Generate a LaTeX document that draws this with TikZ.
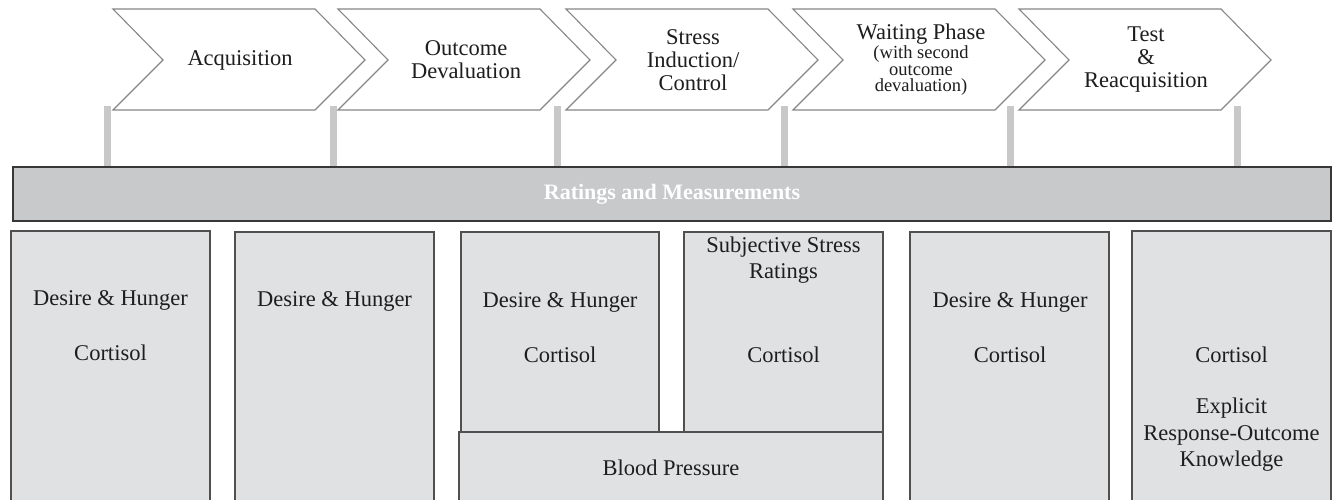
\documentclass[tikz,border=0pt]{standalone}
\usepackage{fontspec}
\setmainfont{Liberation Serif}
\definecolor{chevline}{RGB}{135,135,135}
\definecolor{postgray}{RGB}{200,200,200}
\definecolor{barfill}{RGB}{200,201,203}
\definecolor{bardark}{RGB}{55,55,55}
\definecolor{boxfill}{RGB}{224,225,227}
\definecolor{boxline}{RGB}{80,80,80}
\definecolor{txt}{RGB}{30,30,30}
\begin{document}
\begin{tikzpicture}[x=1pt,y=-1pt,
  chev/.style={draw=chevline, fill=white, line width=1.1pt, line join=miter},
  post/.style={fill=postgray, draw=none},
  bar/.style={draw=bardark, fill=barfill, line width=1.3pt},
  mbox/.style={draw=boxline, fill=boxfill, line width=1.1pt},
  lbl/.style={font=\fontsize{22.5}{23}\selectfont, align=center, text=txt, inner sep=0pt},
  blbl/.style={font=\fontsize{22.5}{26.5}\selectfont, align=center, text=txt, inner sep=0pt},
  small/.style={font=\fontsize{18.5}{16.5}\selectfont, align=center, text=txt, inner sep=0pt},
  bartext/.style={font=\fontsize{22}{24}\selectfont\bfseries, text=white, inner sep=0pt}
]
\useasboundingbox (0,0) rectangle (1333,500);
\clip (0,0) rectangle (1333,500);
\fill[white] (0,0) rectangle (1333,500);

% posts
\foreach \px/\nm in {107/p1,333/p2,557/p3,784/p4,1010/p5,1237/p6}{
  \fill[post] (\px-3.5,106) rectangle (\px+3.5,168);
}

% chevrons
\foreach \xo in {113,338,566,793,1019}{
  \draw[chev] (\xo,9) -- (\xo+202,9) -- (\xo+252,60) -- (\xo+202,110) -- (\xo,110) -- (\xo+50,60) -- cycle;
}
\node[lbl] (c1) at (240,60) {Acquisition};
\node[lbl] (c2) at (466,60) {Outcome\\Devaluation};
\node[lbl] (c3) at (693,60) {Stress\\Induction/\\Control};
\node[lbl] (c4a) at (921,34) {Waiting Phase};
\node[small] (c4b) at (921,71) {(with second\\outcome\\devaluation)};
\node[lbl] (c5) at (1146,60) {Test\\\&\\Reacquisition};

% ratings bar
\draw[bar] (13,167) rectangle (1331,221);
\node[bartext] (rm) at (672,194) {Ratings and Measurements};

% measurement boxes
\draw[mbox] (11,231) rectangle (210,520);
\draw[mbox] (235,232) rectangle (434,520);
\draw[mbox] (461,232) rectangle (659,432);
\draw[mbox] (684,232) rectangle (883,432);
\draw[mbox] (459,432) rectangle (883,520);
\draw[mbox] (910,232) rectangle (1109,520);
\draw[mbox] (1132,231) rectangle (1331,520);

\node[blbl] (t1a) at (110.5,300) {Desire \& Hunger};
\node[blbl] (t1b) at (110.5,353) {Cortisol};
\node[blbl] (t2a) at (334.5,301) {Desire \& Hunger};
\node[blbl] (t3a) at (560,302) {Desire \& Hunger};
\node[blbl] (t3b) at (560,355) {Cortisol};
\node[blbl] (t4a) at (783.5,260) {Subjective Stress\\Ratings};
\node[blbl] (t4b) at (783.5,355) {Cortisol};
\node[blbl] (tbp) at (671,468) {Blood Pressure};
\node[blbl] (t5a) at (1010,302) {Desire \& Hunger};
\node[blbl] (t5b) at (1010,355) {Cortisol};
\node[blbl] (t6a) at (1231.5,355) {Cortisol};
\node[blbl] (t6b) at (1231.5,435) {Explicit\\Response-Outcome\\Knowledge};
\end{tikzpicture}
\end{document}
